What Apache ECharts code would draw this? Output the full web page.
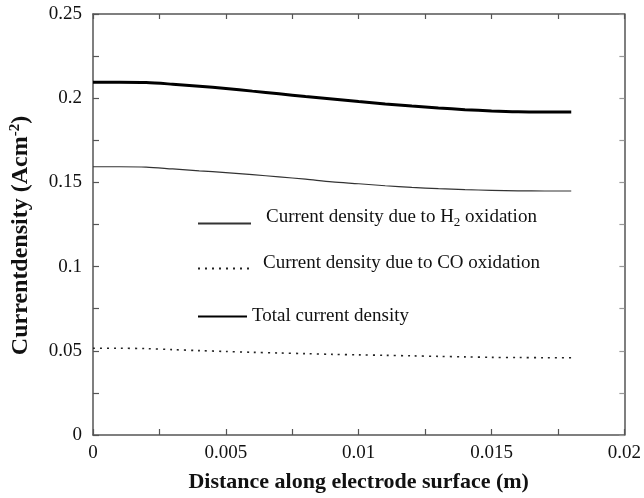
<!DOCTYPE html>
<html><head><meta charset="utf-8">
<script src="https://cdn.jsdelivr.net/npm/echarts@6/dist/echarts.min.js"></script>
<style>html,body{margin:0;padding:0;background:#fff}#c{width:644px;height:498px}</style>
</head><body><div id="c"></div>
<script>
var distance = [0,0.001,0.002,0.003,0.004,0.005,0.006,0.007,0.008,0.009,0.010,0.011,0.012,0.013,0.014,0.015,0.016,0.017,0.018];
var h2Density = [0.1593,0.1593,0.1591,0.1580,0.1569,0.1558,0.1546,0.1533,0.1519,0.1503,0.1492,0.1480,0.1470,0.1463,0.1457,0.1453,0.1450,0.1449,0.1449];
var coDensity = [0.0515,0.0515,0.0513,0.0507,0.0501,0.0496,0.0491,0.0487,0.0483,0.0479,0.0476,0.0473,0.0470,0.0467,0.0464,0.0461,0.0460,0.0459,0.0459];
var totalDensity = [0.2095,0.2095,0.2093,0.2083,0.2071,0.2058,0.2042,0.2026,0.2010,0.1995,0.1980,0.1966,0.1953,0.1942,0.1932,0.1924,0.1919,0.1918,0.1918];
var seriesNames = ['Current density due to H2 oxidation','Current density due to CO oxidation','Total current density'];
var xTicks = [0,0.005,0.01,0.015,0.02];
var yTicks = [0,0.05,0.1,0.15,0.2,0.25];

function pairs(xs, ys){ return xs.map(function(x,i){return [x, ys[i]];}); }
var serif = '"Liberation Serif","Times New Roman",serif';
var axisCol = '#555';
function fmt(v){ return String(+v.toFixed(4)); }

function mkLegend(name, left, top, w, padLeft, padBottom){
  return {data:[name], left:left, top:top, itemWidth:w, itemHeight:10, itemGap:0, padding:0,
    itemStyle:{opacity:0},
    textStyle:{fontFamily: serif, fontSize: 19, color: '#111', padding:[0,0,padBottom,padLeft],
      rich:{sub:{fontFamily: serif, fontSize: 13, color:'#111', padding:[10,0,0,0]}}},
    formatter: function(n){ return n.replace('H2', 'H{sub|2}'); }};
}
function tickStyle(len, col){ return {inside:true, length:len, lineStyle:{color:col, width:1.2}}; }
function minorStyle(len, col){ return {show:true, splitNumber:2, length:len, lineStyle:{color:col, width:1.2}}; }

var chart = echarts.init(document.getElementById('c'), null, {renderer:'canvas'});
chart.setOption({
  animation:false,
  backgroundColor:'#fff',
  grid:{left:93, right:17, top:14, bottom:63},
  legend:[
    mkLegend(seriesNames[0], 197, 208, 53, 10, 12),
    mkLegend(seriesNames[1], 197, 254, 53, 7, 10),
    mkLegend(seriesNames[2], 197, 307, 49, 0, 0)
  ],
  xAxis:[{
    type:'value', min:xTicks[0], max:xTicks[xTicks.length-1], interval:0.005,
    name:'Distance along electrode surface (m)', nameLocation:'middle', nameGap:36, nameMoveOverlap:false,
    nameTextStyle:{fontFamily:serif, fontSize:22, fontWeight:'bold', color:'#111'},
    axisLine:{show:true, onZero:false, lineStyle:{color:axisCol, width:1.5}},
    axisTick:tickStyle(6, axisCol), minorTick:minorStyle(6, axisCol),
    axisLabel:{fontFamily:serif, fontSize:19, color:'#111', margin:9, formatter:fmt},
    splitLine:{show:false}
  },{
    type:'value', position:'top', min:xTicks[0], max:xTicks[xTicks.length-1], interval:0.005,
    axisLine:{show:true, onZero:false, lineStyle:{color:axisCol, width:1.5}},
    axisTick:tickStyle(5, axisCol), minorTick:minorStyle(5, axisCol),
    axisLabel:{show:false}, splitLine:{show:false}
  }],
  yAxis:[{
    type:'value', min:yTicks[0], max:yTicks[yTicks.length-1], interval:0.05,
    name:'Currentdensity (Acm{sup|-2})', nameLocation:'middle', nameGap:60, nameRotate:90,
    nameTextStyle:{fontFamily:serif, fontSize:24, fontWeight:'bold', color:'#111', padding:[0,22,0,0],
      rich:{sup:{fontFamily:serif, fontSize:15, fontWeight:'bold', color:'#111', padding:[0,0,10,0]}}},
    axisLine:{show:true, onZero:false, lineStyle:{color:axisCol, width:1.5}},
    axisTick:tickStyle(6, axisCol), minorTick:minorStyle(6, axisCol),
    axisLabel:{fontFamily:serif, fontSize:19, color:'#111', margin:11, formatter:fmt},
    splitLine:{show:false}
  },{
    type:'value', position:'right', min:yTicks[0], max:yTicks[yTicks.length-1], interval:0.05,
    axisLine:{show:true, onZero:false, lineStyle:{color:axisCol, width:1.5}},
    axisTick:tickStyle(5, '#999'), minorTick:minorStyle(5, '#999'),
    axisLabel:{show:false}, splitLine:{show:false}
  }],
  series:[
    {name:seriesNames[0], type:'line', data:pairs(distance,h2Density), symbol:'none', smooth:0.3,
     lineStyle:{color:'#333', width:1.2}, itemStyle:{color:'#333'}},
    {name:seriesNames[1], type:'line', data:pairs(distance,coDensity), symbol:'none', smooth:0.3,
     lineStyle:{color:'#222', width:1.6, type:[2,5]}, itemStyle:{color:'#222'}},
    {name:seriesNames[2], type:'line', data:pairs(distance,totalDensity), symbol:'none', smooth:0.3,
     lineStyle:{color:'#000', width:3}, itemStyle:{color:'#000'}}
  ]
});
</script></body></html>
